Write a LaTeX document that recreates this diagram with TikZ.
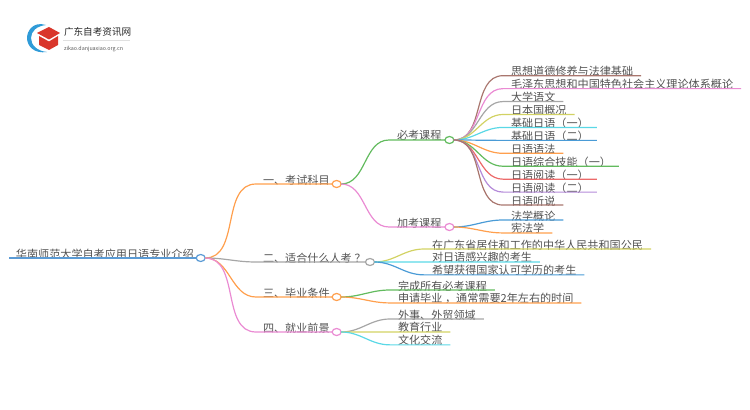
\documentclass[tikz,border=0pt]{standalone}
\usepackage{fontspec}
\setmainfont{Noto Sans CJK SC}
\usepackage{tikz}
\usetikzlibrary{positioning,shapes.geometric}
\definecolor{rootblue}{HTML}{5B9BD5}
\definecolor{mapbrown}{HTML}{A9766E}
\definecolor{mappink}{HTML}{EA8BD3}
\definecolor{mapgray}{HTML}{A6A6A6}
\definecolor{mapyellow}{HTML}{D2D263}
\definecolor{mapcyan}{HTML}{5AD8E6}
\definecolor{mapblue}{HTML}{4A9BD6}
\definecolor{maporange}{HTML}{FF9F4D}
\definecolor{mapgreen}{HTML}{62BB5E}
\definecolor{mapred}{HTML}{EC6A6A}
\definecolor{mappurple}{HTML}{B48AD9}
\definecolor{logoblue}{HTML}{2F9BD8}
\definecolor{logored}{HTML}{D9362B}
\begin{document}
\begin{tikzpicture}[x=0.75pt,y=-0.75pt,
                      every node/.style={font=\fontsize{8.33pt}{10pt}\selectfont, text=black!68,
                        inner ysep=0pt, outer sep=0pt, text height=7.5pt, text depth=0pt},
                      topic/.style={anchor=south west, inner xsep=5.25pt},
                      leaf/.style={anchor=south west, inner xsep=6pt},
                      hub/.style={ellipse, draw, fill=white, line width=0.9pt, inner sep=0pt,
                        minimum width=6.75pt, minimum height=5.25pt, text height=0pt, text depth=0pt},
                      branch/.style={line width=0.9pt}]
    \useasboundingbox (0,0) rectangle (750,410);
    % logo
    \fill[logoblue] (46,25) .. controls (33,21) and (27,31) .. (27,38)
      .. controls (27,46) and (34,54) .. (47,52)
      .. controls (37,51) and (31,45) .. (31,38)
      .. controls (31,31) and (37,26) .. (46,25) -- cycle;
    \fill[logored] (37,33) -- (49,27) -- (60,33) -- (49,39.5) -- cycle;
    \fill[logored] (39,36) -- (49,41.5) -- (58,36) -- (58,45) -- (49,50) -- (39,45) -- cycle;
    \node[font=\fontsize{7.2pt}{8pt}\selectfont, text=black!85, anchor=west, inner xsep=0pt] (logotext) at (64,31) {广东自考资讯网};
    \node[font=\fontsize{4pt}{5pt}\selectfont, text=black!65, anchor=west, inner xsep=0pt] (logourl) at (64,46) {zikao.danjuaxiao.org.cn};
    \draw[black!12, line width=0.4pt] (63,40) -- (130,40);

    % root and topics
    \node[topic] (root) at (9,258) {华南师范大学自考应用日语专业介绍};
    \node[topic] (exam) at (256,184) {一、考试科目};
    \node[topic] (who)  at (256,262) {二、适合什么人考\kern2pt？\kern-2pt};
    \node[topic] (grad) at (256,297) {三、毕业条件};
    \node[topic] (job)  at (256,332) {四、就业前景};
    \node[leaf]  (must) at (389,140) {必考课程};
    \node[leaf]  (plus) at (389,227) {加考课程};

    \node[hub, draw=rootblue]  (roothub) at (root.south east) {};
    \node[hub, draw=maporange] (examhub) at (exam.south east) {};
    \node[hub, draw=mapgray]   (whohub)  at (who.south east)  {};
    \node[hub, draw=maporange] (gradhub) at (grad.south east) {};
    \node[hub, draw=mappink]   (jobhub)  at (job.south east)  {};
    \node[hub, draw=mapgreen]  (musthub) at (must.south east) {};
    \node[hub, draw=mappink]   (plushub) at (plus.south east) {};

    % required courses
    \node[leaf] (ma) at (503,75.7) {思想道德修养与法律基础};
    \node[leaf] (mb) [below right=2.2pt and 0pt of ma.south west] {毛泽东思想和中国特色社会主义理论体系概论};
    \node[leaf] (mc) [below right=2.2pt and 0pt of mb.south west] {大学语文};
    \node[leaf] (md) [below right=2.2pt and 0pt of mc.south west] {日本国概况};
    \node[leaf] (me) [below right=2.2pt and 0pt of md.south west] {基础日语（一）};
    \node[leaf] (mf) [below right=2.2pt and 0pt of me.south west] {基础日语（二）};
    \node[leaf] (mg) [below right=2.2pt and 0pt of mf.south west] {日语语法};
    \node[leaf] (mh) [below right=2.2pt and 0pt of mg.south west] {日语综合技能（一）};
    \node[leaf] (mi) [below right=2.2pt and 0pt of mh.south west] {日语阅读（一）};
    \node[leaf] (mj) [below right=2.2pt and 0pt of mi.south west] {日语阅读（二）};
    \node[leaf] (mk) [below right=2.2pt and 0pt of mj.south west] {日语听说};

    % other leaves
    \node[leaf] (pa) at (503,220) {法学概论};
    \node[leaf] (pb) [below right=2.2pt and 0pt of pa.south west] {宪法学};
    \node[leaf] (wa) at (424,249) {在广东省居住和工作的中华人民共和国公民};
    \node[leaf] (wb) [below right=2.2pt and 0pt of wa.south west] {对日语感兴趣的考生};
    \node[leaf] (wc) [below right=2.2pt and 0pt of wb.south west] {希望获得国家认可学历的考生};
    \node[leaf] (ga) at (390,290) {完成所有必考课程};
    \node[leaf] (gb) [below right=2.2pt and 0pt of ga.south west] {申请毕业\kern2pt，通常需要2年左右的时间};
    \node[leaf] (ja) at (390,319) {外事、外贸领域};
    \node[leaf] (jb) [below right=2.2pt and 0pt of ja.south west] {教育行业};
    \node[leaf] (jc) [below right=2.2pt and 0pt of jb.south west] {文化交流};

    \draw[branch, rootblue, line width=1.2pt] (root.south west) -- (roothub.west);
    \draw[branch, maporange] (roothub.east) to[out=0,in=180] (exam.south west) -- (examhub.west);
    \draw[branch, mapgray]   (roothub.east) to[out=0,in=180] (who.south west)  -- (whohub.west);
    \draw[branch, maporange] (roothub.east) to[out=0,in=180] (grad.south west) -- (gradhub.west);
    \draw[branch, mappink]   (roothub.east) to[out=0,in=180] (job.south west)  -- (jobhub.west);
    \draw[branch, mapgreen]  (examhub.east) to[out=0,in=180] (must.south west) -- (musthub.west);
    \draw[branch, mappink]   (examhub.east) to[out=0,in=180] (plus.south west) -- (plushub.west);

    \draw[branch, mapbrown]  (musthub.east) to[out=0,in=180] (ma.south west) -- (ma.south east);
    \draw[branch, mappink]   (musthub.east) to[out=0,in=180] (mb.south west) -- (mb.south east);
    \draw[branch, mapgray]   (musthub.east) to[out=0,in=180] (mc.south west) -- (mc.south east);
    \draw[branch, mapyellow] (musthub.east) to[out=0,in=180] (md.south west) -- (md.south east);
    \draw[branch, mapcyan]   (musthub.east) to[out=0,in=180] (me.south west) -- (me.south east);
    \draw[branch, mapblue]   (musthub.east) to[out=0,in=180] (mf.south west) -- (mf.south east);
    \draw[branch, maporange] (musthub.east) to[out=0,in=180] (mg.south west) -- (mg.south east);
    \draw[branch, mapgreen]  (musthub.east) to[out=0,in=180] (mh.south west) -- (mh.south east);
    \draw[branch, mapred]    (musthub.east) to[out=0,in=180] (mi.south west) -- (mi.south east);
    \draw[branch, mappurple] (musthub.east) to[out=0,in=180] (mj.south west) -- (mj.south east);
    \draw[branch, mapbrown]  (musthub.east) to[out=0,in=180] (mk.south west) -- (mk.south east);

    \draw[branch, mapblue]   (plushub.east) to[out=0,in=180] (pa.south west) -- (pa.south east);
    \draw[branch, maporange] (plushub.east) to[out=0,in=180] (pb.south west) -- (pb.south east);
    \draw[branch, mapyellow] (whohub.east)  to[out=0,in=180] (wa.south west) -- (wa.south east);
    \draw[branch, mapcyan]   (whohub.east)  to[out=0,in=180] (wb.south west) -- (wb.south east);
    \draw[branch, mapblue]   (whohub.east)  to[out=0,in=180] (wc.south west) -- (wc.south east);
    \draw[branch, mapgreen]  (gradhub.east) to[out=0,in=180] (ga.south west) -- (ga.south east);
    \draw[branch, maporange] (gradhub.east) to[out=0,in=180] (gb.south west) -- (gb.south east);
    \draw[branch, mapgray]   (jobhub.east)  to[out=0,in=180] (ja.south west) -- (ja.south east);
    \draw[branch, mapyellow] (jobhub.east)  to[out=0,in=180] (jb.south west) -- (jb.south east);
    \draw[branch, mapcyan]   (jobhub.east)  to[out=0,in=180] (jc.south west) -- (jc.south east);
  \end{tikzpicture}
\end{document}
